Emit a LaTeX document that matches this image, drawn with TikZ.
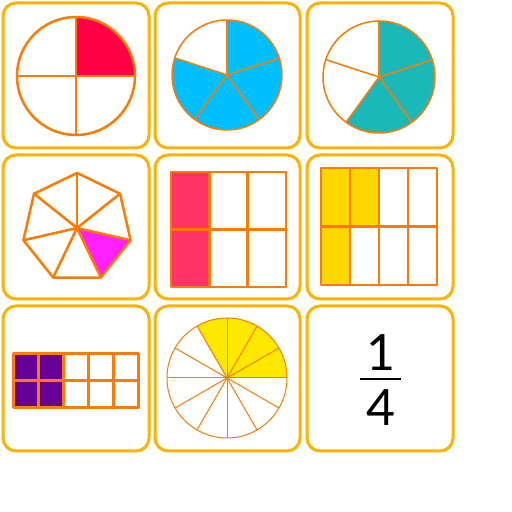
\documentclass[tikz,border=0pt]{standalone}
\usepackage{fontspec}
\setmainfont{Lato}
\definecolor{amber}{HTML}{FFB300}
\definecolor{lineor}{HTML}{FF7A00}
\definecolor{fred}{HTML}{FF0044}
\definecolor{fblue}{HTML}{00BFFF}
\definecolor{fteal}{HTML}{1AB8B8}
\definecolor{fmag}{HTML}{FF1FFF}
\definecolor{fpink}{HTML}{FF3366}
\definecolor{fgold}{HTML}{FFD700}
\definecolor{fpurple}{HTML}{660099}
\definecolor{fyellow}{HTML}{FFE800}
\begin{document}
\begin{tikzpicture}[x=1pt,y=1pt,
  tile/.style={draw=amber,line width=3pt,rounded corners=13pt,fill=white},
  ol/.style={draw=lineor,line join=round},
  digit/.style={inner sep=0pt,anchor=base,font=\fontsize{50}{50}\selectfont}]
\useasboundingbox[fill=white] (0,0) rectangle (512,512);
% tiles
\draw[tile] (3,364) rectangle (149,509);
\draw[tile] (155,364) rectangle (300,509);
\draw[tile] (307,364) rectangle (453,509);
\draw[tile] (3,213) rectangle (149,357);
\draw[tile] (155,213) rectangle (300,357);
\draw[tile] (307,213) rectangle (453,357);
\draw[tile] (3,61) rectangle (149,206);
\draw[tile] (155,61) rectangle (300,206);
\draw[tile] (307,61) rectangle (453,206);
% tile 1: quarters
\begin{scope}[shift={(76,436)}]
  \fill[fred] (0,0) -- (0:59) arc (0:90:59) -- cycle;
  \draw[ol,line width=2.5pt] (0,0) circle (59);
  \draw[ol,line width=2.5pt] (-59,0) -- (59,0) (0,-59) -- (0,59);
\end{scope}
% tile 2: fifths, 4 blue
\begin{scope}[shift={(227,437)}]
  \fill[fblue] (0,0) circle (55);
  \fill[white] (0,0) -- (90:55) arc (90:162:55) -- cycle;
  \draw[ol,line width=1.5pt] (0,0) circle (55);
  \foreach \a in {90,18,-54,-126,162} \draw[ol,line width=1.5pt] (0,0) -- (\a:55);
\end{scope}
% tile 3: fifths, 3 teal
\begin{scope}[shift={(379,435)}]
  \fill[fteal] (0,0) -- (-126:56) arc (-126:90:56) -- cycle;
  \draw[ol,line width=1.5pt] (0,0) circle (56);
  \foreach \a in {90,18,-54,-126,162} \draw[ol,line width=1.5pt] (0,0) -- (\a:56);
\end{scope}
% tile 4: heptagon
\begin{scope}[shift={(77,284)}]
  \fill[fmag] (0,0) -- (-12.857:55) -- (-64.286:55) -- cycle;
  \draw[ol,line width=2.5pt] (90:55) -- (38.571:55) -- (-12.857:55) -- (-64.286:55) -- (-115.714:55) -- (-167.143:55) -- (141.429:55) -- cycle;
  \foreach \a in {90,38.571,-12.857,-64.286,-115.714,-167.143,141.429} \draw[ol,line width=2.5pt] (0,0) -- (\a:55);
\end{scope}
% tile 5: 2x3 grid
\fill[fpink] (171,225) rectangle (209.33,340);
\draw[ol,line width=2.5pt] (171,225) rectangle (286,340);
\draw[ol,line width=2.5pt] (209.33,225) -- (209.33,340) (247.67,225) -- (247.67,340) (171,282.5) -- (286,282.5);
% tile 6: 2x4 grid
\fill[fgold] (321,285.5) rectangle (379,344);
\fill[fgold] (321,227) rectangle (350,285.5);
\draw[ol,line width=2.5pt] (321,227) rectangle (437,344);
\draw[ol,line width=2.5pt] (350,227) -- (350,344) (379,227) -- (379,344) (408,227) -- (408,344) (321,285.5) -- (437,285.5);
% tile 7: 2x5 grid
\fill[fpurple] (13,104) rectangle (63,158);
\draw[ol,line width=3pt] (13,104) rectangle (138,158);
\draw[ol,line width=3pt] (38,104) -- (38,158) (63,104) -- (63,158) (88,104) -- (88,158) (113,104) -- (113,158) (13,131) -- (138,131);
% tile 8: twelfths
\begin{scope}[shift={(227,134)}]
  \fill[fyellow] (0,0) -- (0:60) arc (0:120:60) -- cycle;
  \draw[ol,line width=1pt] (0,0) circle (60);
  \foreach \a in {0,30,...,330} \draw[ol,line width=1pt] (0,0) -- (\a:60);
\end{scope}
% tile 9: fraction
\node[digit] (num) at (380.5,141) {1};
\node[digit] (den) at (380.5,86) {4};
\coordinate (barl) at (360,133);
\coordinate (barr) at (401,133);
\draw[line width=2.5pt] (barl) -- (barr);
\end{tikzpicture}
\end{document}
